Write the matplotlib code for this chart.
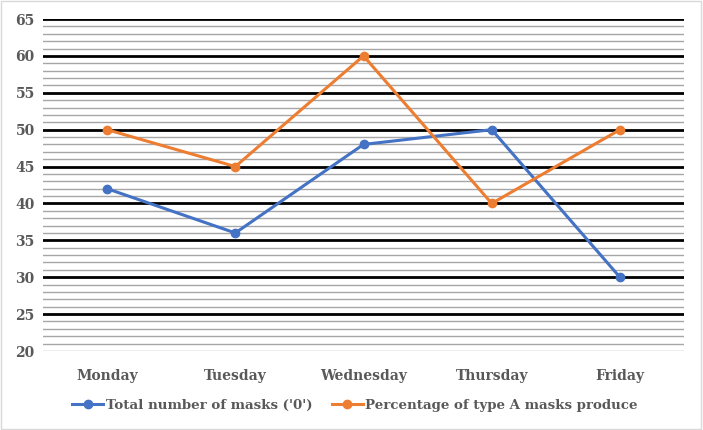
import numpy as np
import matplotlib.pyplot as plt
from matplotlib.patches import Rectangle

days = ['Monday', 'Tuesday', 'Wednesday', 'Thursday', 'Friday']
total_masks = [42, 36, 48, 50, 30]
pct_type_a = [50, 45, 60, 40, 50]

plt.rcParams['font.family'] = ['DejaVu Serif']
txt = '#595959'

fig = plt.figure(figsize=(7.03, 4.30), dpi=100)
fig.patches.append(Rectangle((0.002, 0.003), 0.995, 0.994, transform=fig.transFigure,
                             fill=False, edgecolor='#d9d9d9', linewidth=1))
ax = fig.add_axes([0.0612, 0.1837, 0.9118, 0.7721])

x = np.arange(len(days))
ax.set_xlim(-0.5, len(days) - 0.5)
ax.set_ylim(20, 65)
for v in range(20, 66):
    if v % 5 == 0 and v != 20:
        ax.axhline(v, color='black', linewidth=2, zorder=1)
    else:
        ax.axhline(v, color='#a6a6a6', linewidth=1, zorder=1)

ax.plot(x, total_masks, color='#4472c4', linewidth=2.2, marker='o', markersize=6,
        label="Total number of masks ('0')", zorder=3)
ax.plot(x, pct_type_a, color='#ed7d31', linewidth=2.2, marker='o', markersize=6,
        label='Percentage of type A masks produce', zorder=3)

ax.set_yticks(range(20, 66, 5))
ax.set_xticks(x)
ax.set_xticklabels(days)
ax.tick_params(length=0, labelsize=10, labelcolor=txt, pad=6)
ax.tick_params(axis='x', pad=13)
for lab in ax.get_xticklabels() + ax.get_yticklabels():
    lab.set_fontweight('bold')
for s in ax.spines.values():
    s.set_visible(False)

leg = fig.legend(loc='center', bbox_to_anchor=(0.505, 0.058), ncol=2, frameon=False,
                 prop={'weight': 'bold', 'size': 9.6}, handlelength=2.3,
                 handletextpad=0.2, columnspacing=1.5)
for t in leg.get_texts():
    t.set_color(txt)

fig.savefig('out.png', dpi=100)
